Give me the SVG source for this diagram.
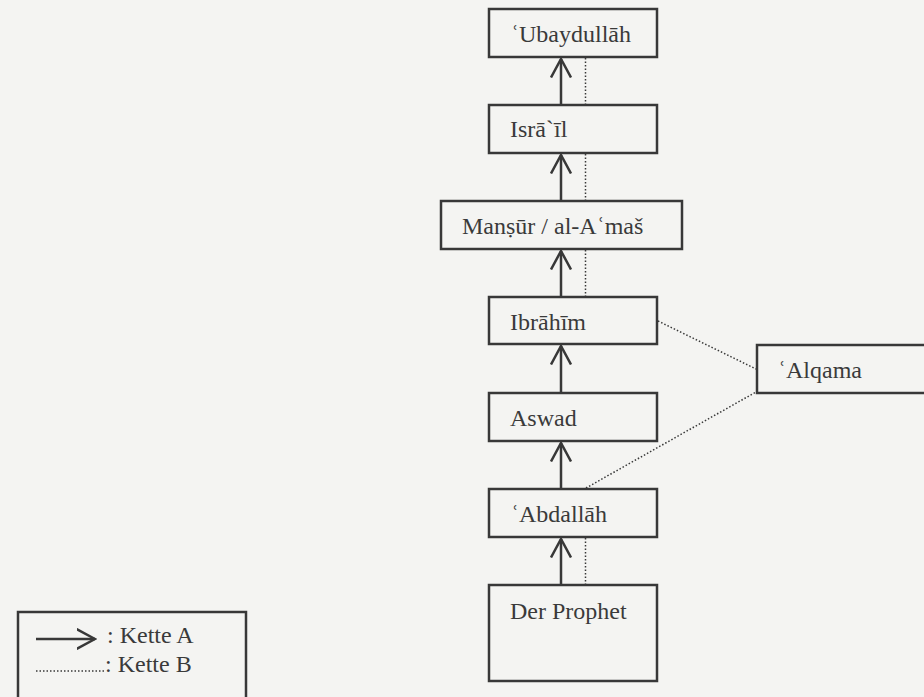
<svg xmlns="http://www.w3.org/2000/svg" width="924" height="697" viewBox="0 0 924 697">
<style>
.box{fill:none;stroke:#383838;stroke-width:2.5}
.t{font-family:"Liberation Serif","Times New Roman","DejaVu Serif",serif;font-size:24px;fill:#3a3a3a}
.a{fill:none;stroke:#383838;stroke-width:2.5}
.d{fill:none;stroke:#383838;stroke-width:1.5;stroke-dasharray:1.5 2}
</style>
<defs>
<marker id="ah" viewBox="0 0 20 22" refX="18.5" refY="11" markerWidth="20" markerHeight="22" markerUnits="userSpaceOnUse" orient="auto">
<path d="M0,1 L18.5,11 L0,21" fill="none" stroke="#383838" stroke-width="2.5"/>
</marker>
</defs>
<rect width="924" height="697" fill="#f4f4f2"/>
<g id="n1"><rect class="box" x="489" y="9" width="168" height="48"/><text class="t" x="511" y="42">ʿUbaydullāh</text></g>
<g id="n2"><rect class="box" x="489" y="105" width="168" height="48"/><text class="t" x="510" y="137">Isrā`īl</text></g>
<g id="n3"><rect class="box" x="441" y="201" width="241" height="48"/><text class="t" x="462" y="234">Manṣūr / al-Aʿmaš</text></g>
<g id="n4"><rect class="box" x="489" y="297" width="168" height="47"/><text class="t" x="510" y="330">Ibrāhīm</text></g>
<g id="n5"><rect class="box" x="489" y="393" width="168" height="48"/><text class="t" x="510" y="426">Aswad</text></g>
<g id="n6"><rect class="box" x="489" y="489" width="168" height="48"/><text class="t" x="511" y="522">ʿAbdallāh</text></g>
<g id="n7"><rect class="box" x="489" y="585" width="168" height="96"/><text class="t" x="510" y="619">Der Prophet</text></g>
<g id="n8"><rect class="box" x="757" y="345" width="180" height="48"/><text class="t" x="778" y="378">ʿAlqama</text></g>
<g id="connectors">
<line class="a" x1="561" y1="105" x2="561" y2="59" marker-end="url(#ah)"/>
<line class="a" x1="561" y1="201" x2="561" y2="155" marker-end="url(#ah)"/>
<line class="a" x1="561" y1="297" x2="561" y2="251" marker-end="url(#ah)"/>
<line class="a" x1="561" y1="393" x2="561" y2="346" marker-end="url(#ah)"/>
<line class="a" x1="561" y1="489" x2="561" y2="443" marker-end="url(#ah)"/>
<line class="a" x1="561" y1="585" x2="561" y2="539" marker-end="url(#ah)"/>
<line class="d" x1="585.5" y1="58" x2="585.5" y2="104"/>
<line class="d" x1="585.5" y1="154" x2="585.5" y2="200"/>
<line class="d" x1="585.5" y1="250" x2="585.5" y2="296"/>
<line class="d" x1="585.5" y1="538" x2="585.5" y2="584"/>
<line class="d" x1="658" y1="321" x2="756" y2="369"/>
<line class="d" x1="586" y1="488" x2="756" y2="392"/>
</g>
<g id="legend">
<rect class="box" x="18" y="612" width="228" height="100"/>
<line class="a" x1="36" y1="639" x2="95" y2="639" marker-end="url(#ah)"/>
<text class="t" x="107" y="643">: Kette A</text>
<line class="d" x1="36" y1="671" x2="104" y2="671"/>
<text class="t" x="105" y="672">: Kette B</text>
</g>
</svg>
